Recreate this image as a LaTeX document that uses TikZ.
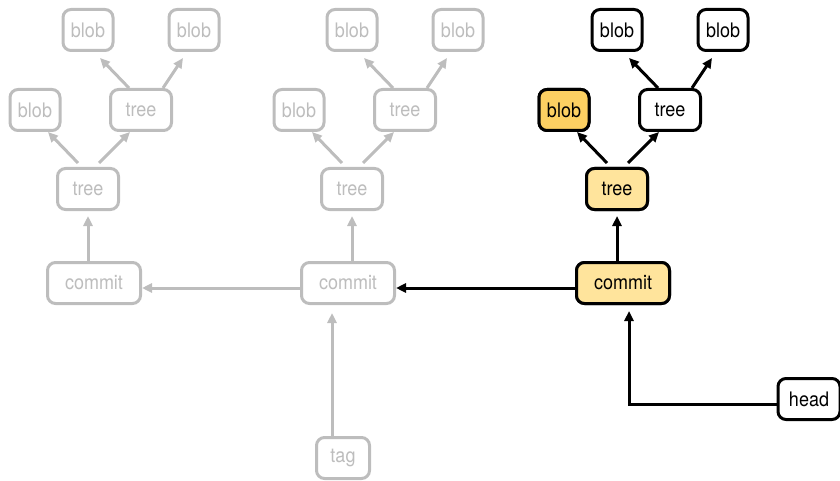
\documentclass[tikz,border=0pt]{standalone}
\usepackage{fontspec}
\setmainfont[FakeStretch=0.9]{TeX Gyre Heros}
\usetikzlibrary{arrows.meta,calc}
\definecolor{ghost}{HTML}{BDBDBD}
\definecolor{hilite}{HTML}{FFE49C}
\definecolor{hiliteblob}{HTML}{FCD062}
\tikzset{
  obj/.style={rounded corners=8pt, line width=3pt, inner sep=0pt,
    minimum height=41pt, font=\fontsize{20}{22}\selectfont, fill=white},
  blobbox/.style={obj, minimum width=50pt},
  treebox/.style={obj, minimum width=61pt},
  commitbox/.style={obj, minimum width=93pt},
  tagbox/.style={obj, minimum width=53pt},
  headbox/.style={obj, minimum width=62pt},
  ghostnode/.style={draw=ghost, text=ghost},
  livenode/.style={draw=black, text=black},
  link/.style={line width=3pt, -{Triangle[length=10pt,width=9pt]}},
  ghostlink/.style={link, draw=ghost, color=ghost},
  livelink/.style={link, draw=black},
}
\begin{document}
\begin{tikzpicture}[x=1pt,y=1pt]
\useasboundingbox (0,0) rectangle (840,480);

% three snapshots of the object graph: two faded, the current one in black
\foreach \g/\dx/\cx/\st in {1/0/94/ghost, 2/264/348/ghost, 3/529/623/live}{
  \node[blobbox, \st node] (ba\g) at (88+\dx,450) {blob};
  \node[blobbox, \st node] (bb\g) at (194+\dx,450) {blob};
  \node[blobbox, \st node] (bc\g) at (35+\dx,370) {blob};
  \node[treebox, \st node] (tb\g) at (141+\dx,370) {tree};
  \node[treebox, \st node] (ta\g) at (88+\dx,291) {tree};
  \node[commitbox, \st node] (c\g) at (\cx,197) {commit};
  \draw[\st link] ($(ta\g.north)+(-10,4)$) -- ($(bc\g.south)+(13,0)$);
  \draw[\st link] ($(ta\g.north)+(11,4)$) -- ($(tb\g.south)+(-11,0)$);
  \draw[\st link] ($(tb\g.north)+(-12,0)$) -- ($(ba\g.south)+(12,-6)$);
  \draw[\st link] ($(tb\g.north)+(22,0)$) -- ($(bb\g.south)+(-11,-6)$);
  \draw[\st link, shorten >=5pt] (c\g.north -| ta\g) -- (ta\g.south);
}

% the current snapshot is highlighted
\node[blobbox, livenode, fill=hiliteblob] at (bc3) {blob};
\node[treebox, livenode, fill=hilite] at (ta3) {tree};
\node[commitbox, livenode, fill=hilite] at (c3) {commit};

% parent links between commits
\draw[ghostlink] ($(c2.west)+(0,-5)$) -- ($(c1.east)+(0,-5)$);
\draw[livelink] ($(c3.west)+(0,-5)$) -- ($(c2.east)+(0,-5)$);

% references
\node[tagbox, ghostnode] (tag) at (343,22) {tag};
\draw[ghostlink] ($(tag.north)+(-11,0)$) -- ($(c2.south)+(-16,-8)$);

\node[headbox, livenode] (head) at (809,81) {head};
\draw[livelink] ($(head.west)+(0,-5)$) -| ($(c3.south)+(6,-6)$);
\end{tikzpicture}
\end{document}
